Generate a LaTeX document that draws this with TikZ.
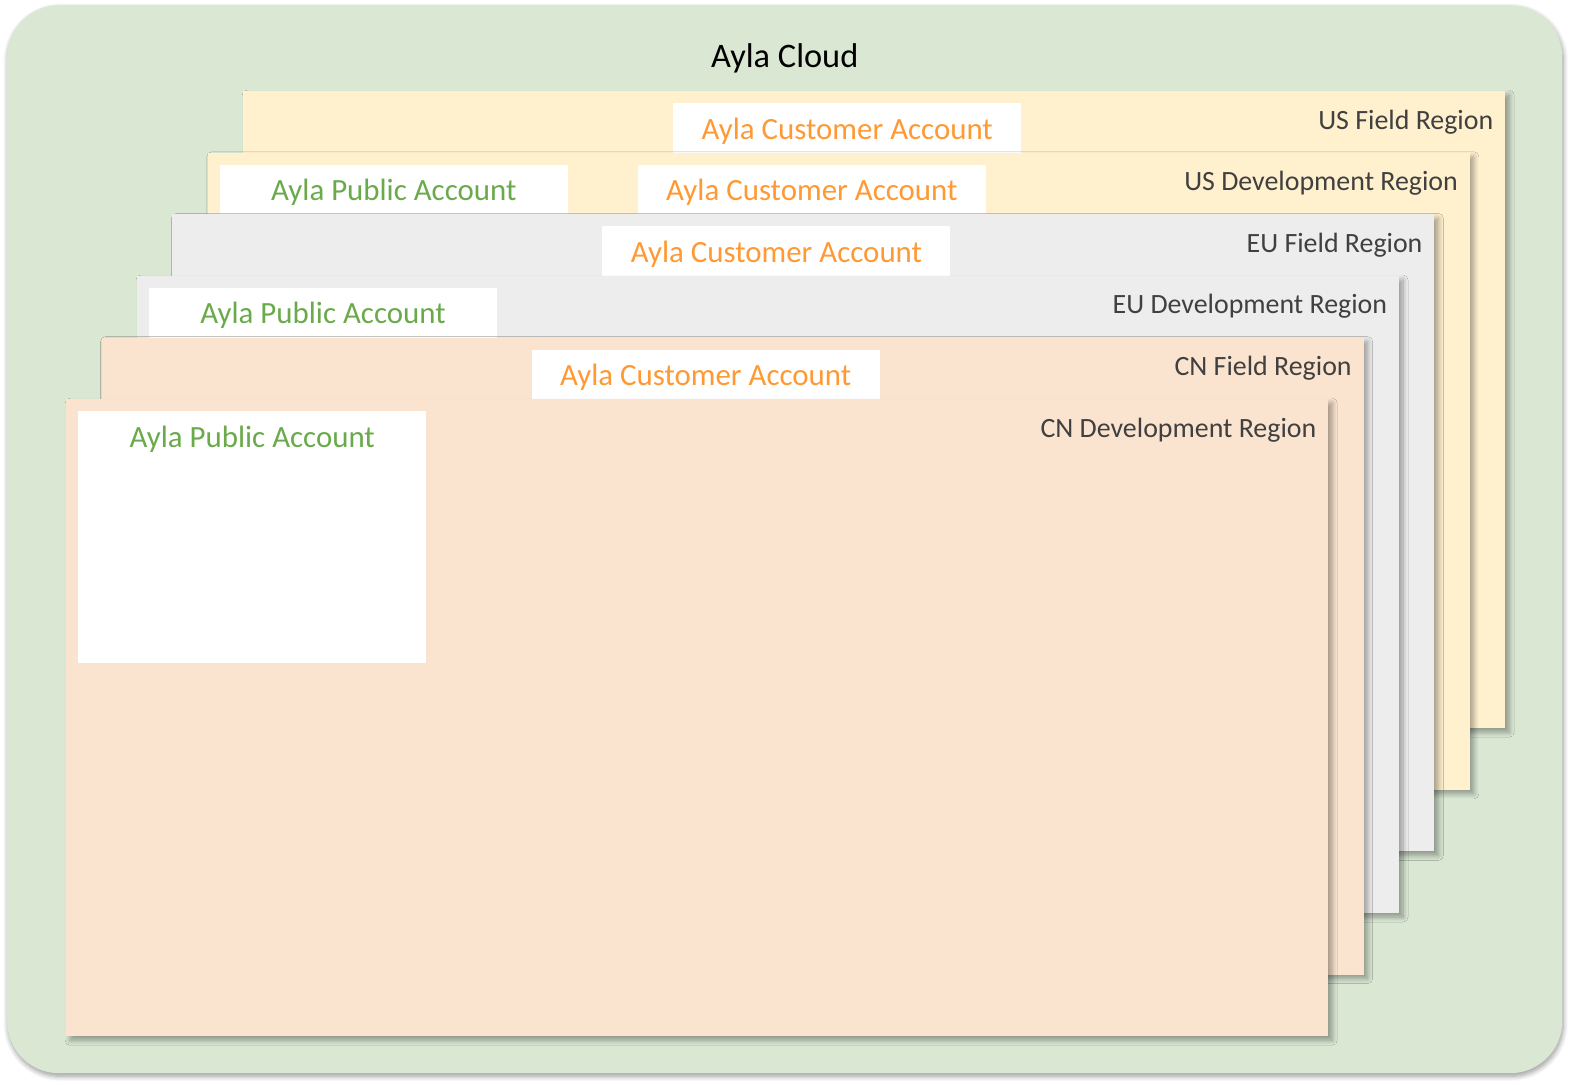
\documentclass[tikz,border=0pt]{standalone}
\usepackage{fontspec}
\setmainfont{Carlito}
\usetikzlibrary{positioning,shadows.blur}

\definecolor{cloudgreen}{HTML}{D9E7D3}
\definecolor{usfill}{HTML}{FFF0CE}
\definecolor{eufill}{HTML}{EDEDED}
\definecolor{cnfill}{HTML}{FBE4CF}
\definecolor{pubgreen}{HTML}{6AAA4B}
\definecolor{custorange}{HTML}{FF9933}
\definecolor{regiongrey}{HTML}{404040}

\begin{document}
\begin{tikzpicture}[x=1bp,y=-1bp,
  layer/.style={anchor=north west,inner sep=0pt,minimum width=1262bp,minimum height=637bp,
    blur shadow={shadow xshift=4bp,shadow yshift=-4bp,shadow blur radius=5bp,shadow blur steps=8,shadow opacity=35}},
  acctbox/.style={anchor=north west,fill=white,inner sep=0pt,minimum width=348bp,minimum height=252bp},
  pubtext/.style={anchor=base,inner sep=0pt,text=pubgreen,font=\fontsize{31}{36}\selectfont},
  custtext/.style={anchor=base,inner sep=0pt,text=custorange,font=\fontsize{31}{36}\selectfont},
  regiontext/.style={anchor=base east,inner sep=0pt,text=regiongrey,font=\fontsize{28}{33}\selectfont}]
	\useasboundingbox (0,0) rectangle (1574,1084);

	% Outer cloud
	\node[anchor=north west,inner sep=0pt,minimum width=1555bp,minimum height=1068bp,fill=cloudgreen,rounded corners=52bp,
	  blur shadow={shadow xshift=1bp,shadow yshift=-3bp,shadow blur radius=5bp,shadow blur steps=8,shadow blur extra rounding=48bp,shadow opacity=40}] (ayla) at (7,5) {};
	\node[anchor=base,inner sep=0pt,font=\fontsize{34.5}{40}\selectfont] (aylatxt) at ([yshift=-62bp]ayla.north) {Ayla Cloud};

	% US Field Region
	\node[layer,fill=usfill] (usfield) at (243,91) {};
	\node[acctbox,below right=12bp and 430bp of usfield.north west] (usfieldcust) {};
	\node[custtext] (usfieldcusttxt) at ([yshift=-36bp]usfieldcust.north) {Ayla Customer Account};
	\node[regiontext] (usfieldtxt) at ([xshift=-12bp,yshift=-38bp]usfield.north east) {US Field Region};

	% US Development Region
	\node[layer,fill=usfill] (usdev) at (207.6,152.6) {};
	\node[acctbox,below right=12bp and 12bp of usdev.north west] (usdevpub) {};
	\node[pubtext] (usdevpubtxt) at ([yshift=-36bp]usdevpub.north) {Ayla Public Account};
	\node[acctbox,below right=12bp and 430bp of usdev.north west] (usdevcust) {};
	\node[custtext] (usdevcusttxt) at ([yshift=-36bp]usdevcust.north) {Ayla Customer Account};
	\node[regiontext] (usdevtxt) at ([xshift=-12bp,yshift=-38bp]usdev.north east) {US Development Region};

	% EU Field Region
	\node[layer,fill=eufill] (eufield) at (172.2,214.2) {};
	\node[acctbox,below right=12bp and 430bp of eufield.north west] (eufieldcust) {};
	\node[custtext] (eufieldcusttxt) at ([yshift=-36bp]eufieldcust.north) {Ayla Customer Account};
	\node[regiontext] (eufieldtxt) at ([xshift=-12bp,yshift=-38bp]eufield.north east) {EU Field Region};

	% EU Development Region
	\node[layer,fill=eufill] (eudev) at (136.8,275.8) {};
	\node[acctbox,below right=12bp and 12bp of eudev.north west] (eudevpub) {};
	\node[pubtext] (eudevpubtxt) at ([yshift=-36bp]eudevpub.north) {Ayla Public Account};
	\node[regiontext] (eudevtxt) at ([xshift=-12bp,yshift=-38bp]eudev.north east) {EU Development Region};

	% CN Field Region
	\node[layer,fill=cnfill] (cnfield) at (101.4,337.4) {};
	\node[acctbox,below right=12bp and 430bp of cnfield.north west] (cnfieldcust) {};
	\node[custtext] (cnfieldcusttxt) at ([yshift=-36bp]cnfieldcust.north) {Ayla Customer Account};
	\node[regiontext] (cnfieldtxt) at ([xshift=-12bp,yshift=-38bp]cnfield.north east) {CN Field Region};

	% CN Development Region
	\node[layer,fill=cnfill] (cndev) at (66,399) {};
	\node[acctbox,below right=12bp and 12bp of cndev.north west] (cndevpub) {};
	\node[pubtext] (cndevpubtxt) at ([yshift=-36bp]cndevpub.north) {Ayla Public Account};
	\node[regiontext] (cndevtxt) at ([xshift=-12bp,yshift=-38bp]cndev.north east) {CN Development Region};
\end{tikzpicture}
\end{document}
